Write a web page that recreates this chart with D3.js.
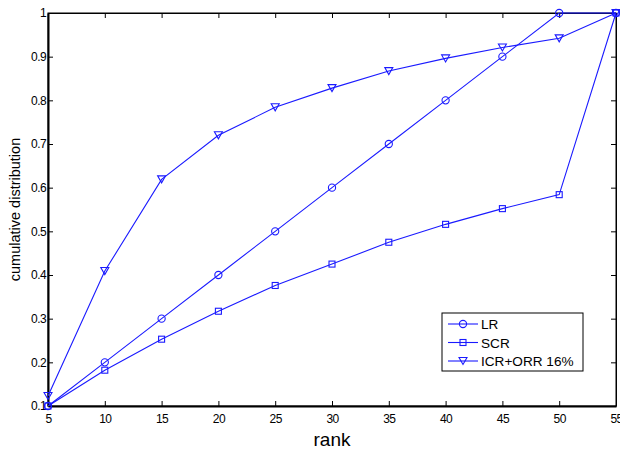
<!DOCTYPE html>
<html>
<head>
<meta charset="utf-8">
<script src="https://cdn.jsdelivr.net/npm/d3@7"></script>
<style>
  body { margin: 0; background: #fff; }
  svg { display: block; font-family: "Liberation Sans", Arial, sans-serif; }
</style>
</head>
<body>
<svg id="chart"></svg>
<script>
// chart data
const ranks = [5, 10, 15, 20, 25, 30, 35, 40, 45, 50, 55];
const lr = [0.1, 0.2, 0.3, 0.4, 0.5, 0.6, 0.7, 0.8, 0.9, 1.0, 1.0];
const scr = [0.1, 0.182, 0.253, 0.317, 0.376, 0.425, 0.475, 0.516, 0.552, 0.584, 1.0];
const icr = [0.123, 0.409, 0.619, 0.72, 0.784, 0.828, 0.867, 0.896, 0.921, 0.942, 1.0];
const seriesNames = ["LR", "SCR", "ICR+ORR 16%"];
const xTicks = [5, 10, 15, 20, 25, 30, 35, 40, 45, 50, 55];
const yTicks = [0.1, 0.2, 0.3, 0.4, 0.5, 0.6, 0.7, 0.8, 0.9, 1];

const width = 620, height = 454;
const margin = { top: 13, right: 4, bottom: 48, left: 48 };
const blue = "#1a1aff";

const svg = d3.select("#chart").attr("width", width).attr("height", height);

const x = d3.scaleLinear().domain([5, 55]).range([margin.left, width - margin.right]);
const y = d3.scaleLinear().domain([0.1, 1]).range([height - margin.bottom, margin.top]);

const series = [
  { name: seriesNames[0], values: lr, marker: "circle" },
  { name: seriesNames[1], values: scr, marker: "square" },
  { name: seriesNames[2], values: icr, marker: "triangle" }
];

// box frame
svg.append("rect")
  .attr("x", x(5)).attr("y", y(1))
  .attr("width", x(55) - x(5)).attr("height", y(0.1) - y(1))
  .attr("fill", "none").attr("stroke", "#000").attr("stroke-width", 1);

const fmt = d => d === 1 ? "1" : d3.format(".1f")(d);

// axes with inward ticks
const gx = svg.append("g").attr("transform", `translate(0,${y(0.1)})`)
  .call(d3.axisBottom(x).tickValues(xTicks).tickSizeInner(-5).tickSizeOuter(0).tickPadding(8));
const gxTop = svg.append("g").attr("transform", `translate(0,${y(1)})`)
  .call(d3.axisTop(x).tickValues(xTicks).tickSizeInner(-5).tickSizeOuter(0).tickFormat(""));
const gy = svg.append("g").attr("transform", `translate(${x(5)},0)`)
  .call(d3.axisLeft(y).tickValues(yTicks).tickSizeInner(-5).tickSizeOuter(0).tickFormat(fmt).tickPadding(2));
const gyRight = svg.append("g").attr("transform", `translate(${x(55)},0)`)
  .call(d3.axisRight(y).tickValues(yTicks).tickSizeInner(-5).tickSizeOuter(0).tickFormat(""));

[gx, gxTop, gy, gyRight].forEach(g => {
  g.select(".domain").attr("stroke", "#000").attr("stroke-width", 1);
  g.selectAll(".tick line").attr("stroke", "#000");
  g.selectAll("text").attr("fill", "#000")
    .style("font-size", "12px").style("letter-spacing", "-0.6px")
    .style("font-family", "Liberation Sans, Arial, sans-serif");
});
gx.select(".domain").attr("stroke-width", 2);
gy.select(".domain").attr("stroke-width", 2);

// axis labels
svg.append("text")
  .attr("x", (x(5) + x(55)) / 2).attr("y", 446)
  .attr("text-anchor", "middle").style("font-size", "19px")
  .text("rank");
svg.append("text")
  .attr("transform", `translate(20,${(y(0.1) + y(1)) / 2}) rotate(-90)`)
  .attr("text-anchor", "middle").style("font-size", "14.5px")
  .text("cumulative distribution");

// marker drawing
function drawMarker(g, type, cx, cy) {
  if (type === "circle") {
    g.append("circle").attr("cx", cx).attr("cy", cy).attr("r", 3.6);
  } else if (type === "square") {
    g.append("rect").attr("x", cx - 3).attr("y", cy - 3).attr("width", 6).attr("height", 6);
  } else {
    g.append("path").attr("d", `M${cx - 4},${cy - 3.5}L${cx + 4},${cy - 3.5}L${cx},${cy + 3.5}Z`);
  }
}

const line = d3.line().x(d => x(d[0])).y(d => y(d[1]));

series.forEach(s => {
  const pts = ranks.map((r, i) => [r, s.values[i]]);
  svg.append("path")
    .datum(pts)
    .attr("d", line)
    .attr("fill", "none").attr("stroke", blue).attr("stroke-width", 1.1);
  const mg = svg.append("g").attr("fill", "none").attr("stroke", blue).attr("stroke-width", 1.1);
  pts.forEach(p => drawMarker(mg, s.marker, x(p[0]), y(p[1])));
});

// legend
const legend = svg.append("g").attr("transform", "translate(442,313)");
legend.append("rect")
  .attr("width", 141).attr("height", 58)
  .attr("fill", "#fff").attr("stroke", "#000").attr("stroke-width", 1);
series.forEach((s, i) => {
  const ly = 11 + i * 18.5;
  legend.append("line")
    .attr("x1", 6).attr("x2", 36).attr("y1", ly).attr("y2", ly)
    .attr("stroke", blue).attr("stroke-width", 1.1);
  const mg = legend.append("g").attr("fill", "none").attr("stroke", blue).attr("stroke-width", 1.1);
  drawMarker(mg, s.marker, 21, ly);
  legend.append("text")
    .attr("x", 39).attr("y", ly + 5)
    .style("font-size", "13.6px")
    .text(s.name);
});
</script>
</body>
</html>
